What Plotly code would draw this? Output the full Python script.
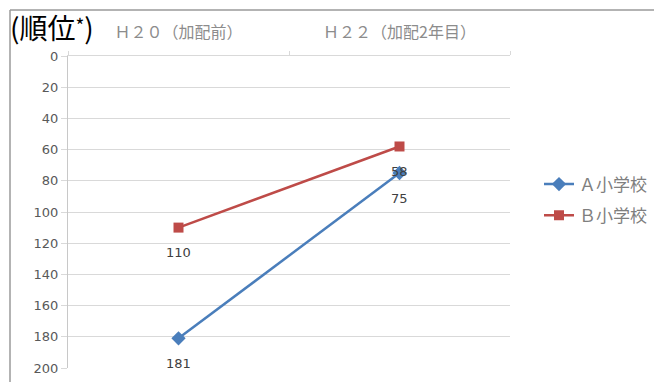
import plotly.graph_objects as go

# 年度区分（カテゴリ）
categories = ["Ｈ２０（加配前）", "Ｈ２２（加配2年目）"]
# 各校の順位
school_a = [181, 75]
school_b = [110, 58]
series_names = ["Ａ小学校", "Ｂ小学校"]
y_ticks = [0, 20, 40, 60, 80, 100, 120, 140, 160, 180, 200]

W, H = 654, 382
L, R, T, B = 68, 144, 56, 14
pw, ph = W - L - R, H - T - B

def px_x(x):
    return (x - L) / pw

def px_y(y):
    return (H - B - y) / ph

JP = "Noto Sans CJK JP"
LAT = "DejaVu Sans"
BLUE = "#4A7EBB"
RED = "#BE4B48"
GRID = "#D9D9D9"

fig = go.Figure()
fig.add_trace(go.Scatter(
    x=categories, y=school_a, name=series_names[0], mode="lines+markers",
    line=dict(color=BLUE, width=2.5),
    marker=dict(symbol="diamond", size=11, color=BLUE),
    legendgroup="a",
))
fig.add_trace(go.Scatter(
    x=categories, y=school_b, name=series_names[1], mode="lines+markers",
    line=dict(color=RED, width=2.5),
    marker=dict(symbol="square", size=10, color=RED),
    legendgroup="b",
))

# データラベル（各点の下）
for vals in (school_b, school_a):
    for c, v in zip(categories, vals):
        fig.add_annotation(
            x=c, y=v, xref="x", yref="y", text=str(v), showarrow=False,
            yshift=-25, font=dict(family=LAT, size=13, color="#404040"),
        )

# 見出し
fig.add_annotation(
    xref="paper", yref="paper", x=px_x(8), y=px_y(27),
    xanchor="left", yanchor="middle", showarrow=False,
    text='(順位<span style="font-size:19px;baseline-shift:6px">*</span>)',
    font=dict(family=JP, size=28, color="#000000"),
)

# 外枠
frame = dict(color="#9A9A9A", width=1.5)
fig.add_shape(type="line", xref="paper", yref="paper",
              x0=px_x(10), x1=px_x(W + 2), y0=px_y(10), y1=px_y(10), line=frame)
fig.add_shape(type="line", xref="paper", yref="paper",
              x0=px_x(10), x1=px_x(10), y0=px_y(10), y1=px_y(H + 2), line=frame)

fig.update_layout(
    width=W, height=H,
    margin=dict(l=L, r=R, t=T, b=B, autoexpand=False),
    paper_bgcolor="white", plot_bgcolor="white",
    showlegend=True,
    legend=dict(
        x=px_x(539), y=px_y(200), xanchor="left", yanchor="middle",
        font=dict(family=JP, size=17, color="#7F7F7F"),
        tracegroupgap=6, bgcolor="rgba(0,0,0,0)",
    ),
    xaxis=dict(
        type="category", side="top", range=[-0.5, 1.5], automargin=False,
        showgrid=False, showline=True, linecolor=GRID, linewidth=1,
        ticks="outside", ticklen=4, tickcolor=GRID, tickson="boundaries",
        tickfont=dict(family=JP, size=16, color="#8C8C8C"),
        ticklabelstandoff=11,
    ),
    yaxis=dict(
        range=[200, 0], tickvals=y_ticks, ticktext=[str(t) for t in y_ticks],
        automargin=False,
        showgrid=True, gridcolor=GRID, gridwidth=1,
        showline=True, linecolor="#C8C8C8", linewidth=1,
        ticks="outside", ticklen=6, tickcolor=GRID,
        tickfont=dict(family=LAT, size=13, color="#595959"),
        zeroline=False,
    ),
)

fig.write_html("out.html")
